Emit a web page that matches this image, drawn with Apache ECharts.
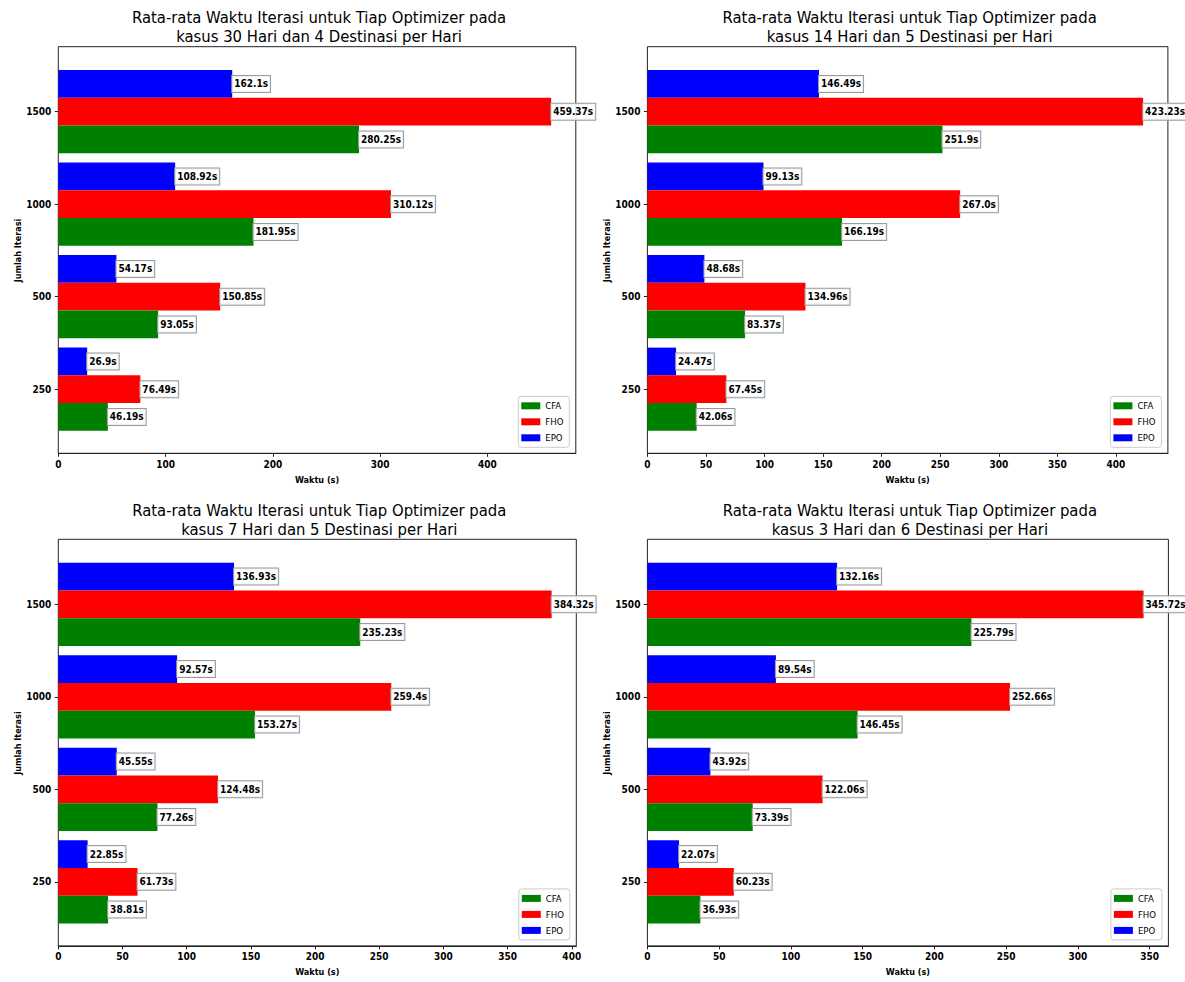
<!DOCTYPE html>
<html>
<head>
<meta charset="utf-8">
<script src="https://cdn.jsdelivr.net/npm/echarts@6/dist/echarts.min.js"></script>
<style>
html,body{margin:0;padding:0;background:#fff;}
#chart{width:1185px;height:982px;}
</style>
</head>
<body>
<div id="chart"></div>
<script>
// ---------- data ----------
const categories = ['250', '500', '1000', '1500'];
const seriesNames = ['CFA', 'FHO', 'EPO'];

const title30 = 'Rata-rata Waktu Iterasi untuk Tiap Optimizer pada\nkasus 30 Hari dan 4 Destinasi per Hari';
const cfa30 = [46.19, 93.05, 181.95, 280.25];
const fho30 = [76.49, 150.85, 310.12, 459.37];
const epo30 = [26.9, 54.17, 108.92, 162.1];
const ticks30 = [0, 100, 200, 300, 400];

const title14 = 'Rata-rata Waktu Iterasi untuk Tiap Optimizer pada\nkasus 14 Hari dan 5 Destinasi per Hari';
const cfa14 = [42.06, 83.37, 166.19, 251.9];
const fho14 = [67.45, 134.96, 267.0, 423.23];
const epo14 = [24.47, 48.68, 99.13, 146.49];
const ticks14 = [0, 50, 100, 150, 200, 250, 300, 350, 400];

const title7 = 'Rata-rata Waktu Iterasi untuk Tiap Optimizer pada\nkasus 7 Hari dan 5 Destinasi per Hari';
const cfa7 = [38.81, 77.26, 153.27, 235.23];
const fho7 = [61.73, 124.48, 259.4, 384.32];
const epo7 = [22.85, 45.55, 92.57, 136.93];
const ticks7 = [0, 50, 100, 150, 200, 250, 300, 350, 400];

const title3 = 'Rata-rata Waktu Iterasi untuk Tiap Optimizer pada\nkasus 3 Hari dan 6 Destinasi per Hari';
const cfa3 = [36.93, 73.39, 146.45, 225.79];
const fho3 = [60.23, 122.06, 252.66, 345.72];
const epo3 = [22.07, 43.92, 89.54, 132.16];
const ticks3 = [0, 50, 100, 150, 200, 250, 300, 350];

const xName = 'Waktu (s)';
const yName = 'Jumlah Iterasi';

// ---------- layout / style ----------
const panels = [
  { title: title30, cfa: cfa30, fho: fho30, epo: epo30, ticks: ticks30 },
  { title: title14, cfa: cfa14, fho: fho14, epo: epo14, ticks: ticks14 },
  { title: title7,  cfa: cfa7,  fho: fho7,  epo: epo7,  ticks: ticks7 },
  { title: title3,  cfa: cfa3,  fho: fho3,  epo: epo3,  ticks: ticks3 }
];
const layout = [
  { left: 58.3,  top: 46.7,  width: 517.5 },
  { left: 647.4, top: 46.7,  width: 520.5 },
  { left: 58.3,  top: 539.3, width: 518 },
  { left: 647.4, top: 539.3, width: 521 }
];
const frameH = 406.6;
const innerOff = 18.7;
const innerH = 370.1;
const colors = { CFA: '#008000', FHO: '#ff0000', EPO: '#0000ff' };
const FONT = '"DejaVu Sans Condensed", "Liberation Sans Narrow", "Liberation Sans", sans-serif';
const axisColor = '#222';

function fmt(v) {
  return (Number.isInteger(v) ? v.toFixed(1) : String(v)) + 's';
}

const option = {
  animation: false,
  backgroundColor: '#fff',
  title: [], grid: [], xAxis: [], yAxis: [], series: [], legend: []
};

panels.forEach((p, i) => {
  const L = layout[i];
  const maxV = Math.max(...p.cfa, ...p.fho, ...p.epo) * 1.05;
  const og = 2 * i, ig = 2 * i + 1;

  option.title.push({
    text: p.title,
    left: L.left + L.width / 2 - 3,
    top: L.top - 43,
    textAlign: 'center',
    textStyle: { fontFamily: FONT, fontSize: 16.5, fontWeight: 'normal', color: '#000', lineHeight: 18.5 }
  });

  // outer frame grid (box + x axis)
  option.grid.push({ left: L.left, top: L.top, width: L.width, height: frameH,
    show: true, borderColor: axisColor, borderWidth: 1, backgroundColor: 'transparent' });
  // inner grid for bars
  option.grid.push({ left: L.left, top: L.top + innerOff, width: L.width, height: innerH, show: false });

  option.xAxis.push({
    type: 'value', gridIndex: og, min: 0, max: maxV,
    name: xName, nameLocation: 'middle', nameGap: 22,
    nameTextStyle: { fontFamily: FONT, fontSize: 9, fontWeight: 'bold', color: '#000' },
    axisLine: { show: true, lineStyle: { color: axisColor, width: 1 } },
    axisTick: { show: true, length: 3.5, lineStyle: { color: axisColor }, customValues: p.ticks },
    axisLabel: { show: true, margin: 6, fontFamily: FONT, fontSize: 10, fontWeight: 'bold', color: '#000', customValues: p.ticks },
    splitLine: { show: false }
  });
  option.xAxis.push({ type: 'value', gridIndex: ig, min: 0, max: maxV, show: false, splitLine: { show: false } });

  option.yAxis.push({ type: 'value', gridIndex: og, min: 0, max: 1, show: false, splitLine: { show: false } });
  option.yAxis.push({
    type: 'category', gridIndex: ig, data: categories,
    name: yName, nameLocation: 'middle', nameGap: 32, nameRotate: 90,
    nameTextStyle: { fontFamily: FONT, fontSize: 9, fontWeight: 'bold', color: '#000' },
    axisLine: { show: false },
    axisTick: { show: true, alignWithLabel: true, length: 3.5, lineStyle: { color: axisColor } },
    axisLabel: { margin: 7, fontFamily: FONT, fontSize: 10, fontWeight: 'bold', color: '#000' },
    splitLine: { show: false }
  });

  const order = [['EPO', p.epo], ['FHO', p.fho], ['CFA', p.cfa]];
  order.forEach(([name, vals]) => {
    option.series.push({
      name: name, type: 'bar', xAxisIndex: ig, yAxisIndex: ig,
      data: vals, barWidth: 27.75, barGap: '0%',
      itemStyle: { color: colors[name] },
      label: {
        show: true, position: 'right', distance: 0,
        formatter: (prm) => fmt(prm.value),
        fontFamily: FONT, fontSize: 10, fontWeight: 'bold', color: '#000',
        backgroundColor: 'rgba(255,255,255,0.85)', borderColor: '#9a9a9a', borderWidth: 1,
        padding: [3, 2, 3, 2]
      }
    });
  });

  option.legend.push({
    data: seriesNames, orient: 'vertical',
    left: L.left + L.width - 57.5, top: L.top + frameH - 57,
    itemWidth: 19, itemHeight: 7, itemGap: 5, icon: 'rect',
    padding: [4, 6, 4, 3],
    borderColor: '#ccc', borderWidth: 1, borderRadius: 3,
    backgroundColor: 'rgba(255,255,255,0.8)',
    selectedMode: false,
    textStyle: { fontFamily: FONT, fontSize: 9.5, color: '#000', lineHeight: 11 }
  });
});

const chart = echarts.init(document.getElementById('chart'), null, { renderer: 'svg' });
chart.setOption(option);
</script>
</body>
</html>
